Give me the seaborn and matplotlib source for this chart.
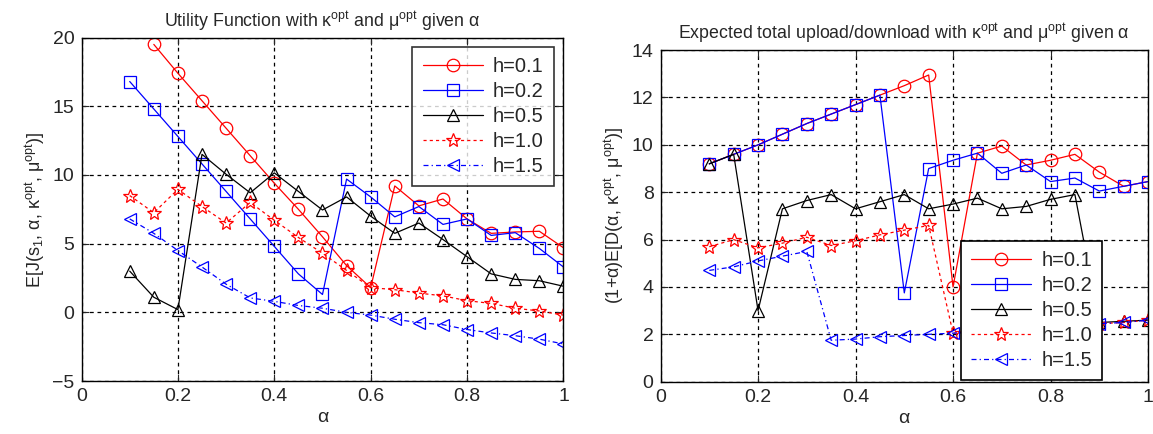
import numpy as np
import matplotlib
matplotlib.use('Agg')
import matplotlib.pyplot as plt
import seaborn as sns

# alpha grid shared by all curves
alpha = [0.10, 0.15, 0.20, 0.25, 0.30, 0.35, 0.40, 0.45, 0.50, 0.55,
         0.60, 0.65, 0.70, 0.75, 0.80, 0.85, 0.90, 0.95, 1.00]

# left panel: utility function
util_h01 = [np.nan, 19.5, 17.4, 15.4, 13.4, 11.4, 9.4, 7.5, 5.5, 3.4,
            1.8, 9.2, 7.75, 8.25, 6.8, 5.75, 5.85, 5.9, 4.7]
util_h02 = [16.8, 14.8, 12.8, 10.8, 8.8, 6.8, 4.8, 2.8, 1.3, 9.7,
            8.4, 6.95, 7.7, 6.4, 6.8, 5.6, 5.8, 4.65, 3.3]
util_h05 = [3.0, 1.1, 0.2, 11.5, 10.05, 8.7, 10.15, 8.8, 7.45, 8.4,
            7.0, 5.75, 6.5, 5.3, 4.05, 2.8, 2.4, 2.3, 1.9]
util_h10 = [8.5, 7.25, 8.95, 7.7, 6.5, 8.0, 6.7, 5.45, 4.3, 3.05,
            1.8, 1.65, 1.4, 1.2, 0.85, 0.65, 0.3, 0.1, -0.2]
util_h15 = [6.8, 5.75, 4.5, 3.3, 2.05, 1.05, 0.8, 0.5, 0.3, 0.0,
            -0.2, -0.5, -0.75, -0.9, -1.25, -1.5, -1.7, -1.95, -2.3]

# right panel: expected total upload/download
load_h01 = [9.2, 9.6, 10.0, 10.45, 10.9, 11.3, 11.7, 12.1, 12.5, 12.95,
            4.0, 9.65, 9.95, 9.15, 9.35, 9.6, 8.85, 8.25, 8.45]
load_h02 = [9.2, 9.6, 10.0, 10.45, 10.9, 11.3, 11.7, 12.1, 3.75, 9.0,
            9.35, 9.65, 8.8, 9.15, 8.45, 8.6, 8.05, 8.25, 8.45]
load_h05 = [9.2, 9.6, 3.0, 7.3, 7.65, 7.9, 7.3, 7.6, 7.9, 7.3,
            7.5, 7.75, 7.3, 7.4, 7.7, 7.9, 2.5, 2.55, 2.6]
load_h10 = [5.7, 6.0, 5.65, 5.85, 6.1, 5.75, 5.95, 6.2, 6.4, 6.6,
            2.05, 2.1, 2.15, 2.25, 2.3, 2.4, 2.45, 2.5, 2.6]
load_h15 = [4.7, 4.85, 5.1, 5.3, 5.5, 1.75, 1.8, 1.9, 1.95, 2.0,
            2.05, 2.1, 2.15, 2.25, 2.3, 2.4, 2.45, 2.5, 2.6]

labels = ['h=0.1', 'h=0.2', 'h=0.5', 'h=1.0', 'h=1.5']
styles = [('red', 'o', '-'), ('blue', 's', '-'), ('black', '^', '-'),
          ('red', '*', (0, (2.5, 2.5))), ('blue', '<', (0, (4, 2.5, 1, 2.5)))]

sns.set_style('white')
plt.rcParams['font.family'] = ['Liberation Sans', 'DejaVu Sans']
plt.rcParams['mathtext.fontset'] = 'custom'
plt.rcParams['mathtext.rm'] = 'Liberation Sans'
plt.rcParams['mathtext.it'] = 'Liberation Sans'

fig = plt.figure(figsize=(11.53, 4.34), dpi=100)
ax1 = fig.add_axes([0.0707, 0.122, 0.418, 0.7915])
ax2 = fig.add_axes([0.5729, 0.1205, 0.4228, 0.764])


def draw(ax, series):
    for vals, lab, (col, mk, ls) in zip(series, labels, styles):
        ms = 10.5 if mk == '*' else 9
        sns.lineplot(x=alpha, y=vals, ax=ax, color=col, marker=mk,
                     linestyle=ls, linewidth=0.9, markersize=ms,
                     markerfacecolor='none', markeredgecolor=col,
                     markeredgewidth=0.9, label=lab)
    ax.set_xlim(0, 1)
    ax.set_xticks([0, 0.2, 0.4, 0.6, 0.8, 1.0])
    ax.set_xticklabels(['0', '0.2', '0.4', '0.6', '0.8', '1'])
    ax.grid(True, color='black', linestyle=(0, (3, 3)), linewidth=0.9)
    ax.tick_params(direction='in', length=5, labelsize=14,
                   top=True, right=True, bottom=True, left=True, pad=5)
    for sp in ax.spines.values():
        sp.set_color('black')
        sp.set_linewidth(1.0)
    ax.set_xlabel('α', fontsize=14, labelpad=3)


draw(ax1, [util_h01, util_h02, util_h05, util_h10, util_h15])
ax1.set_ylim(-5, 20)
ax1.set_yticks([-5, 0, 5, 10, 15, 20])
ax1.set_ylabel('E[J(s$_1$, α, κ$^{\\rm opt}$, μ$^{\\rm opt}$)]',
               fontsize=13, labelpad=4)
ax1.set_title('Utility Function with κ$^{\\rm opt}$ and μ$^{\\rm opt}$ given α',
              fontsize=12.8, pad=8)
leg1 = ax1.legend(loc='upper right', bbox_to_anchor=(0.98, 0.972),
                  borderaxespad=0, fontsize=14.5, frameon=True, fancybox=False,
                  handlelength=3.0, labelspacing=0.3, borderpad=0.5,
                  handletextpad=0.5)
leg1.get_frame().set_edgecolor('black')
leg1.get_frame().set_linewidth(1.2)

draw(ax2, [load_h01, load_h02, load_h05, load_h10, load_h15])
ax2.set_ylim(0, 14)
ax2.set_yticks([0, 2, 4, 6, 8, 10, 12, 14])
ax2.set_ylabel('(1+α)E[D(α, κ$^{\\rm opt}$, μ$^{\\rm opt}$)]',
               fontsize=13, labelpad=4)
ax2.set_title('Expected total upload/download with κ$^{\\rm opt}$ and μ$^{\\rm opt}$ given α',
              fontsize=12.8, pad=8)
leg2 = ax2.legend(loc='lower left', bbox_to_anchor=(0.616, 0.005),
                  borderaxespad=0, fontsize=14.5, frameon=True, fancybox=False,
                  handlelength=3.0, labelspacing=0.3, borderpad=0.5,
                  handletextpad=0.5, framealpha=1)
leg2.get_frame().set_edgecolor('black')
leg2.get_frame().set_linewidth(1.2)

fig.savefig('out.png', dpi=100)
